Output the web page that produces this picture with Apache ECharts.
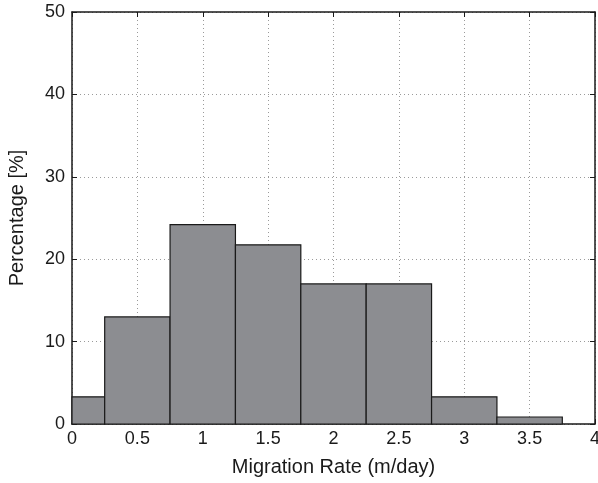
<!DOCTYPE html>
<html>
<head>
<meta charset="utf-8">
<script src="https://cdn.jsdelivr.net/npm/echarts@6/dist/echarts.min.js"></script>
<style>
  html, body { margin: 0; padding: 0; background: #fff; }
  #chart { width: 598px; height: 483px; }
</style>
</head>
<body>
<div id="chart"></div>
<script>
// Histogram of migration rates: bin centres (m/day) and share of events per bin (%)
var binCenters = [0, 0.5, 1, 1.5, 2, 2.5, 3, 3.5];
var percentages = [3.3, 13, 24.2, 21.75, 17, 17, 3.3, 0.85];
var binWidth = 0.5;
var xTicks = ['0', '0.5', '1', '1.5', '2', '2.5', '3', '3.5', '4'];
var yTicks = ['0', '10', '20', '30', '40', '50'];

var FONT = '"Liberation Sans", Arial, Helvetica, sans-serif';

var chart = echarts.init(document.getElementById('chart'), null, { renderer: 'canvas' });

function gridLine() { return { show: true, lineStyle: { color: '#9a9a9a', width: 1, type: [1, 3] } }; }
function axisLine() { return { show: true, onZero: false, lineStyle: { color: '#1a1a1a', width: 1.5 } }; }
function tick() { return { show: true, inside: true, length: 5, lineStyle: { color: '#1a1a1a', width: 1 } }; }

function xLabel(v) {
  var i = Math.round(v / 0.5);
  return xTicks[i] !== undefined ? xTicks[i] : '';
}
function yLabel(v) {
  var i = Math.round(v / 10);
  return yTicks[i] !== undefined ? yTicks[i] : '';
}

var option = {
  animation: false,
  backgroundColor: '#ffffff',
  grid: {
    left: 72, right: 3, top: 12, bottom: 59,
    containLabel: false, outerBoundsMode: 'none'
  },
  xAxis: [{
    type: 'value', min: 0, max: 4, interval: 0.5,
    position: 'bottom',
    name: 'Migration Rate (m/day)', nameLocation: 'middle', nameGap: 33,
    nameTextStyle: { fontFamily: FONT, fontSize: 20, color: '#1a1a1a' },
    axisLine: axisLine(),
    axisTick: tick(),
    axisLabel: { fontFamily: FONT, fontSize: 18, color: '#1a1a1a', margin: 6, formatter: xLabel },
    splitLine: gridLine()
  }, {
    // mirrored top axis: box edge with inward ticks
    type: 'value', min: 0, max: 4, interval: 0.5,
    position: 'top',
    axisLine: axisLine(),
    axisTick: tick(),
    axisLabel: { show: false },
    splitLine: { show: false }
  }],
  yAxis: [{
    type: 'value', min: 0, max: 50, interval: 10,
    position: 'left',
    name: 'Percentage [%]', nameLocation: 'middle', nameGap: 45,
    nameTextStyle: { fontFamily: FONT, fontSize: 20, color: '#1a1a1a' },
    axisLine: axisLine(),
    axisTick: tick(),
    axisLabel: { fontFamily: FONT, fontSize: 18, color: '#1a1a1a', margin: 7, formatter: yLabel },
    splitLine: gridLine()
  }, {
    // mirrored right axis
    type: 'value', min: 0, max: 50, interval: 10,
    position: 'right',
    axisLine: axisLine(),
    axisTick: tick(),
    axisLabel: { show: false },
    splitLine: { show: false }
  }],
  series: [{
    type: 'custom',
    xAxisIndex: 0,
    yAxisIndex: 0,
    data: binCenters.map(function (c, i) { return [c, percentages[i]]; }),
    renderItem: function (params, api) {
      var c = api.value(0);
      var h = api.value(1);
      var p0 = api.coord([c - binWidth / 2, h]);
      var p1 = api.coord([c + binWidth / 2, 0]);
      var rect = echarts.graphic.clipRectByRect(
        { x: p0[0], y: p0[1], width: p1[0] - p0[0], height: p1[1] - p0[1] },
        { x: params.coordSys.x, y: params.coordSys.y, width: params.coordSys.width, height: params.coordSys.height }
      );
      if (!rect) return null;
      return {
        type: 'rect',
        shape: rect,
        style: { fill: '#8c8d91', stroke: '#1a1a1a', lineWidth: 1.2 }
      };
    },
    z: 3
  }, {
    type: 'line',
    xAxisIndex: 1,
    yAxisIndex: 1,
    data: [],
    silent: true
  }]
};

chart.setOption(option);
</script>
</body>
</html>
